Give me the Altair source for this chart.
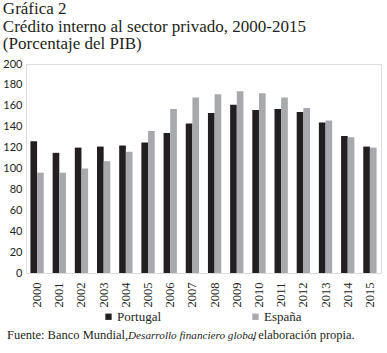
import altair as alt
import pandas as pd

years = [str(y) for y in range(2000, 2016)]
portugal = [126, 115, 120, 121, 122, 125, 134, 143, 153, 161, 156, 157, 154, 144, 131, 121]
espana = [96, 96, 100, 107, 116, 136, 157, 168, 171, 174, 172, 168, 158, 146, 130, 120]
series = ["Portugal", "España"]
colors = ["#231f20", "#a7a9ac"]

rows = []
for i, y in enumerate(years):
    rows.append({"year": y, "serie": "Portugal", "valor": portugal[i]})
    rows.append({"year": y, "serie": "España", "valor": espana[i]})
df = pd.DataFrame(rows)

SERIF = "'Liberation Serif', 'Times New Roman', serif"
SANS = "Lato, 'Open Sans', sans-serif"

bars = alt.Chart(df).mark_bar().encode(
    x=alt.X("year:N", sort=years, title=None,
            scale=alt.Scale(paddingInner=0.4, paddingOuter=0.2),
            axis=alt.Axis(labelAngle=-90, labelFont=SERIF, labelFontSize=12.5,
                          labelColor="#231f20", ticks=False, domain=False,
                          labelPadding=9, labelBaseline="middle", labelAlign="right")),
    xOffset=alt.XOffset("serie:N", sort=series),
    y=alt.Y("valor:Q", title=None,
            scale=alt.Scale(domain=[0, 200]),
            axis=alt.Axis(values=list(range(0, 201, 20)), grid=False, ticks=False,
                          domain=False, labelFont=SANS, labelFontSize=11,
                          labelColor="#231f20", labelPadding=4)),
    color=alt.Color("serie:N", sort=series,
                    scale=alt.Scale(domain=series, range=colors),
                    legend=alt.Legend(title=None, orient="none", direction="horizontal",
                                      legendX=76, legendY=246, symbolType="square",
                                      symbolSize=40, symbolStrokeWidth=0,
                                      labelFont=SERIF, labelFontSize=13,
                                      labelColor="#231f20", columnPadding=87,
                                      labelOffset=2)),
)

src1 = alt.Chart(alt.Data(values=[{}])).mark_text(
    align="left", baseline="alphabetic", font=SERIF, fontSize=12.5, color="#231f20"
).encode(x=alt.value(-19), y=alt.value(275), text=alt.value("Fuente: Banco Mundial,"))
src2 = alt.Chart(alt.Data(values=[{}])).mark_text(
    align="left", baseline="alphabetic", font=SERIF, fontSize=11.2, fontStyle="italic",
    color="#231f20"
).encode(x=alt.value(102), y=alt.value(275), text=alt.value("Desarrollo financiero global"))
src3 = alt.Chart(alt.Data(values=[{}])).mark_text(
    align="left", baseline="alphabetic", font=SERIF, fontSize=12.5, color="#231f20"
).encode(x=alt.value(226), y=alt.value(275), text=alt.value(", elaboración propia."))

chart = alt.layer(bars, src1, src2, src3).properties(
    width=355, height=209,
    autosize="none",
    padding={"left": 26, "top": 64, "right": 6, "bottom": 80},
    title=alt.TitleParams(
        text=["Gráfica 2", "Crédito interno al sector privado, 2000-2015", "(Porcentaje del PIB)"],
        anchor="start", frame="bounds", font=SERIF, fontSize=17, fontWeight="normal",
        color="#231f20", lineHeight=17.5, offset=5,
    ),
).configure_view(stroke="#231f20", strokeWidth=1.5).configure(background="white")

chart.save("out.html", embed_options={"renderer": "svg", "actions": False})
